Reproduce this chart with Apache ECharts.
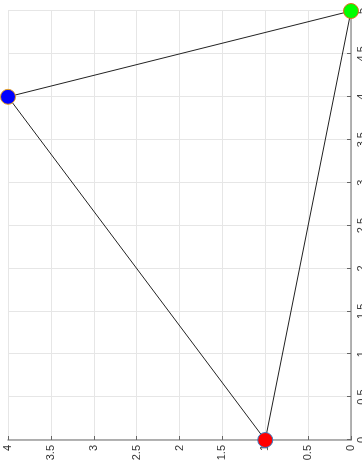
<!DOCTYPE html>
<html>
<head>
<meta charset="utf-8">
<script src="https://cdn.jsdelivr.net/npm/echarts@6/dist/echarts.min.js"></script>
<style>
  html, body { margin: 0; padding: 0; background: #fff; overflow: hidden; }
  #wrap { width: 362px; height: 475px; position: relative; overflow: hidden; }
  /* chart is laid out landscape and turned a quarter-turn counter-clockwise */
  #chart {
    width: 475px; height: 362px; position: absolute; left: 0; top: 0;
    transform-origin: 0 0;
    transform: translate(0px, 475px) rotate(-90deg);
  }
</style>
</head>
<body>
<div id="wrap"><div id="chart"></div></div>
<script>
// triangle vertices
const pointNames = ['A', 'B', 'C'];
const xValues = [0, 4, 5];
const yValues = [1, 4, 0];
const pointColors = ['#ff0000', '#0000ff', '#00ff00'];
const pointBorders = ['#3a7fc4', '#e8a020', '#e07020'];
const xTicks = [0, 0.5, 1, 1.5, 2, 2.5, 3, 3.5, 4, 4.5, 5];
const yTicks = [0, 0.5, 1, 1.5, 2, 2.5, 3, 3.5, 4];

const vertices = pointNames.map((n, i) => [xValues[i], yValues[i]]);
const outline = vertices.concat([vertices[0]]);

const chart = echarts.init(document.getElementById('chart'), null, { renderer: 'canvas' });

const axisCommon = {
  type: 'value',
  interval: 0.5,
  axisLine: { show: true, lineStyle: { color: '#9a9a9a', width: 1.5 } },
  axisTick: { show: true, inside: true, length: 4, lineStyle: { color: '#666' } },
  splitLine: { show: true, lineStyle: { color: '#e6e6e6', width: 1 } },
  axisLabel: { color: '#333', fontSize: 11, fontFamily: 'Liberation Sans', margin: 5 }
};

chart.setOption({
  animation: false,
  grid: { left: 35, right: 11, top: 8, bottom: 11, containLabel: false, outerBoundsMode: 'none' },
  xAxis: Object.assign({}, axisCommon, {
    min: xTicks[0], max: xTicks[xTicks.length - 1]
  }),
  yAxis: Object.assign({}, axisCommon, {
    min: yTicks[0], max: yTicks[yTicks.length - 1]
  }),
  series: [
    {
      type: 'line',
      data: outline,
      symbol: 'none',
      lineStyle: { color: '#222', width: 1 },
      z: 2
    },
    {
      type: 'scatter',
      data: vertices.map((v, i) => ({
        value: v,
        itemStyle: { color: pointColors[i], borderColor: pointBorders[i], borderWidth: 1, opacity: 1 }
      })),
      symbolSize: 15,
      z: 3
    }
  ]
});
</script>
</body>
</html>
